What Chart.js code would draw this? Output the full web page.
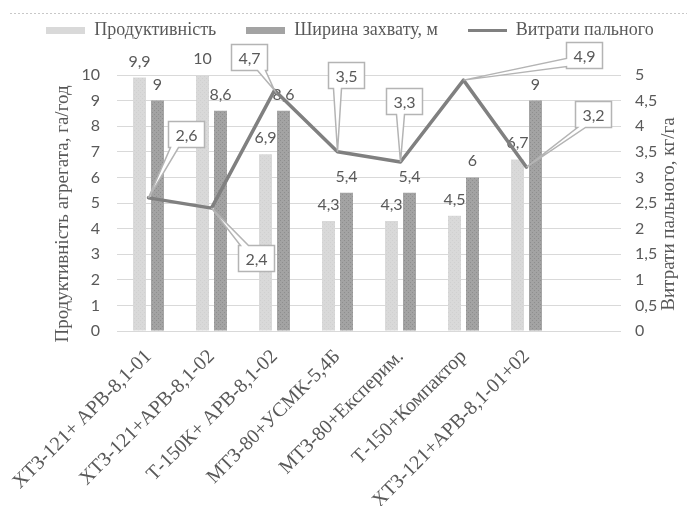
<!DOCTYPE html>
<html>
<head>
<meta charset="utf-8">
<script src="https://cdn.jsdelivr.net/npm/chart.js@4/dist/chart.umd.min.js"></script>
<style>
  html, body { margin: 0; padding: 0; background: #ffffff; }
  #wrap { width: 687px; height: 506px; }
</style>
</head>
<body>
<div id="wrap"><canvas id="chart" width="687" height="506"></canvas></div>
<script>
// Machine-tractor units
const categories = [
  'ХТЗ-121+ АРВ-8,1-01',
  'ХТЗ-121+АРВ-8,1-02',
  'Т-150К+ АРВ-8,1-02',
  'МТЗ-80+УСМК-5,4Б',
  'МТЗ-80+Експерим.',
  'Т-150+Компактор',
  'ХТЗ-121+АРВ-8,1-01+02',
  ''
];
// Unit productivity, ha/h
const productivity = [9.9, 10, 6.9, 4.3, 4.3, 4.5, 6.7, null];
// Working width, m
const workingWidth = [9, 8.6, 8.6, 5.4, 5.4, 6, 9, null];
// Fuel consumption, kg/ha
const fuelUse = [2.6, 2.4, 4.7, 3.5, 3.3, 4.9, 3.2, null];

const seriesNames = ['Продуктивність', 'Ширина захвату, м', 'Витрати пального'];
const leftAxisTitle = 'Продуктивність агрегата, га/год';
const rightAxisTitle = 'Витрати пального, кг/га';

// Callout box offsets (box centre relative to its line point), px
const calloutOffsets = [[37, -64], [44, 50], [-26, -33], [8, -77], [3, -61], [120, -25], [66, -53]];

const serif = "'Liberation Serif', 'Times New Roman', serif";
const sans = "Lato, 'Open Sans', sans-serif";
const ink = '#595959';
const gridColor = '#d9d9d9';
const lightFill = '#d9d9d9';
const darkFill = '#a3a3a3';
const lineColor = '#808080';

const canvas = document.getElementById('chart');
const ctx = canvas.getContext('2d');

function speckled(base, dot) {
  const c = document.createElement('canvas');
  c.width = 4; c.height = 4;
  const g = c.getContext('2d');
  g.fillStyle = base; g.fillRect(0, 0, 4, 4);
  g.fillStyle = dot;
  g.fillRect(0, 0, 1, 1); g.fillRect(2, 2, 1, 1);
  return ctx.createPattern(c, 'repeat');
}
function legendMark(w, h, fill) {
  const c = document.createElement('canvas');
  c.width = w; c.height = h;
  const g = c.getContext('2d');
  g.fillStyle = fill; g.fillRect(0, 0, w, h);
  return c;
}

const lightPattern = speckled(lightFill, '#d0d0d0');
const darkPattern = speckled(darkFill, '#8e8e8e');
const legendMarks = [
  legendMark(39, 7, lightFill),
  legendMark(39, 7, darkFill),
  legendMark(39, 3, lineColor)
];

const fmt = v => String(v).replace('.', ',');

// Widen the legend block so the plot starts below it
const legendHeight = {
  id: 'legendHeight',
  beforeInit(chart) {
    const fit = chart.legend.fit;
    chart.legend.fit = function () {
      fit.call(this);
      this.height = 84;
    };
  }
};

// Thin dotted rule at the top of the figure
const topRule = {
  id: 'topRule',
  beforeDraw(chart) {
    const c = chart.ctx;
    c.save();
    c.strokeStyle = '#c8c8c8';
    c.lineWidth = 1;
    c.setLineDash([2, 2]);
    c.beginPath();
    c.moveTo(10, 13.5);
    c.lineTo(chart.width, 13.5);
    c.stroke();
    c.restore();
  }
};

// Value labels above the bars
const barLabels = {
  id: 'barLabels',
  afterDatasetDraw(chart, args) {
    const ds = chart.data.datasets[args.index];
    if (ds.type !== 'bar') return;
    const c = chart.ctx;
    c.save();
    c.font = '16px ' + sans;
    c.fillStyle = ink;
    c.textAlign = 'center';
    c.textBaseline = 'alphabetic';
    args.meta.data.forEach((el, i) => {
      const v = ds.data[i];
      if (v == null) return;
      c.fillText(fmt(v), el.x, el.y - 11);
    });
    c.restore();
  }
};

// Boxed callouts for the fuel line
function calloutPath(c, L, T, R, B, px, py) {
  const cx = (L + R) / 2, cy = (T + B) / 2;
  const hw = (R - L) / 2, hh = (B - T) / 2;
  const vx = px - cx, vy = py - cy;
  const base = 8;
  const clamp = (v, a, b) => Math.max(a, Math.min(b, v));
  let edge;
  if (Math.abs(vx) / hw > Math.abs(vy) / hh) edge = vx < 0 ? 'left' : 'right';
  else edge = vy < 0 ? 'top' : 'bottom';
  c.beginPath();
  c.moveTo(L, T);
  if (edge === 'top') {
    const m = clamp(px, L + base / 2 + 2, R - base / 2 - 2);
    c.lineTo(m - base / 2, T); c.lineTo(px, py); c.lineTo(m + base / 2, T);
  }
  c.lineTo(R, T);
  if (edge === 'right') {
    const m = clamp(py, T + base / 2 + 2, B - base / 2 - 2);
    c.lineTo(R, m - base / 2); c.lineTo(px, py); c.lineTo(R, m + base / 2);
  }
  c.lineTo(R, B);
  if (edge === 'bottom') {
    const m = clamp(px, L + base / 2 + 2, R - base / 2 - 2);
    c.lineTo(m + base / 2, B); c.lineTo(px, py); c.lineTo(m - base / 2, B);
  }
  c.lineTo(L, B);
  if (edge === 'left') {
    const m = clamp(py, T + base / 2 + 2, B - base / 2 - 2);
    c.lineTo(L, m + base / 2); c.lineTo(px, py); c.lineTo(L, m - base / 2);
  }
  c.closePath();
}

const lineCallouts = {
  id: 'lineCallouts',
  afterDatasetsDraw(chart) {
    const idx = chart.data.datasets.findIndex(d => d.type === 'line');
    const ds = chart.data.datasets[idx];
    const meta = chart.getDatasetMeta(idx);
    const c = chart.ctx;
    c.save();
    c.font = '16px ' + sans;
    meta.data.forEach((pt, i) => {
      const v = ds.data[i];
      if (v == null) return;
      const [ox, oy] = calloutOffsets[i];
      const text = fmt(v);
      const w = Math.round(c.measureText(text).width) + 14;
      const h = 26;
      const bx = pt.x + ox, by = pt.y + oy;
      const L = Math.round(bx - w / 2) + 0.5, T = Math.round(by - h / 2) + 0.5;
      calloutPath(c, L, T, L + w, T + h, pt.x, pt.y);
      c.fillStyle = '#ffffff';
      c.fill();
      c.strokeStyle = '#b4b4b4';
      c.lineWidth = 1.5;
      c.lineJoin = 'miter';
      c.stroke();
      c.fillStyle = ink;
      c.textAlign = 'center';
      c.textBaseline = 'middle';
      c.fillText(text, L + w / 2, T + h / 2 + 1);
    });
    c.restore();
  }
};

// Rotated axis titles
const axisTitles = {
  id: 'axisTitles',
  afterDraw(chart) {
    const c = chart.ctx;
    const a = chart.chartArea;
    const mid = (a.top + a.bottom) / 2 + 11;
    [[leftAxisTitle, 63], [rightAxisTitle, 669]].forEach(([t, x]) => {
      c.save();
      c.font = '19px ' + serif;
      c.fillStyle = ink;
      c.textAlign = 'center';
      c.textBaseline = 'middle';
      c.translate(x, mid);
      c.rotate(-Math.PI / 2);
      c.fillText(t, 0, 0);
      c.restore();
    });
  }
};

new Chart(canvas, {
  data: {
    labels: categories,
    datasets: [
      {
        type: 'bar',
        label: seriesNames[0],
        data: productivity,
        backgroundColor: lightPattern,
        yAxisID: 'y',
        order: 1,
        categoryPercentage: 0.571,
        barPercentage: 0.72
      },
      {
        type: 'bar',
        label: seriesNames[1],
        data: workingWidth,
        backgroundColor: darkPattern,
        yAxisID: 'y',
        order: 2,
        categoryPercentage: 0.571,
        barPercentage: 0.72
      },
      {
        type: 'line',
        label: seriesNames[2],
        data: fuelUse,
        borderColor: lineColor,
        borderWidth: 3.5,
        pointRadius: 0,
        tension: 0,
        borderJoinStyle: 'round',
        borderCapStyle: 'round',
        yAxisID: 'y1',
        order: 0
      }
    ]
  },
  options: {
    responsive: false,
    animation: false,
    devicePixelRatio: 1,
    layout: { padding: { left: 13, right: 0, top: -9, bottom: 0 } },
    plugins: {
      tooltip: { enabled: false },
      legend: {
        position: 'top',
        align: 'center',
        labels: {
          usePointStyle: true,
          pointStyleWidth: 39,
          padding: 30,
          color: ink,
          font: { family: serif, size: 18 },
          generateLabels(chart) {
            return chart.data.datasets.map((d, i) => ({
              text: d.label,
              pointStyle: legendMarks[i],
              fillStyle: '#ffffff',
              strokeStyle: '#ffffff',
              lineWidth: 0,
              hidden: false,
              fontColor: ink,
              datasetIndex: i
            }));
          }
        }
      }
    },
    scales: {
      x: {
        offset: true,
        grid: { display: false },
        border: { display: false },
        ticks: {
          autoSkip: false,
          minRotation: 45,
          maxRotation: 45,
          padding: 6,
          color: ink,
          font: { family: serif, size: 20 }
        },
        afterFit(s) { s.height = 175; }
      },
      y: {
        position: 'left',
        min: 0,
        max: 10,
        ticks: { stepSize: 1, padding: 17, color: ink, font: { family: sans, size: 16 } },
        grid: { color: gridColor, lineWidth: 1, drawTicks: false },
        border: { display: false },
        afterFit(s) { s.width = 104; }
      },
      y1: {
        position: 'right',
        min: 0,
        max: 5,
        ticks: { stepSize: 0.5, padding: 14, color: ink, font: { family: sans, size: 16 }, callback: v => fmt(v) },
        grid: { display: false, drawTicks: false },
        border: { display: false },
        afterFit(s) { s.width = 66; }
      }
    }
  },
  plugins: [legendHeight, topRule, barLabels, lineCallouts, axisTitles]
});
</script>
</body>
</html>
